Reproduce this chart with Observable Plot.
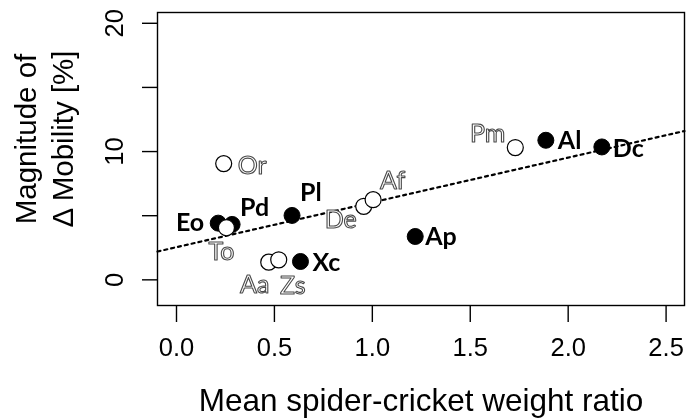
<!DOCTYPE html>
<html>
<head>
<meta charset="utf-8">
<script src="https://cdn.jsdelivr.net/npm/d3@7"></script>
<script src="https://cdn.jsdelivr.net/npm/@observablehq/plot@0.6"></script>
<style>
  html, body { margin: 0; padding: 0; background: #fff; }
  #chart svg { filter: grayscale(1); }
</style>
</head>
<body>
<div id="chart"></div>
<script>
// ---- data ----
const species     = ["Eo", "Pd", "Pl", "Xc", "Ap", "Al", "Dc", "To", "Or", "Aa", "Zs", "De", "Af", "Pm"];
const weightRatio = [0.213, 0.284, 0.590, 0.633, 1.219, 1.886, 2.172, 0.255, 0.241, 0.471, 0.522, 0.956, 1.004, 1.730];
const mobility    = [4.42, 4.32, 5.02, 1.43, 3.38, 10.88, 10.36, 4.06, 9.06, 1.38, 1.56, 5.73, 6.25, 10.31];
const filledGroup = [true, true, true, true, true, true, true, false, false, false, false, false, false, false];

const xTicks = [0, 0.5, 1.0, 1.5, 2.0, 2.5];
const yTicks = [0, 5, 10, 15, 20];
const yTickLabels = [0, 10, 20];
const xTitle = "Mean spider-cricket weight ratio";
const yTitleLines = ["Magnitude of", "\u0394 Mobility [%]"];

const rows = species.map((s, i) => ({ s, x: weightRatio[i], y: mobility[i], filled: filledGroup[i] }));

// least-squares fit (drawn across the whole panel, like abline)
const mx = d3.mean(weightRatio), my = d3.mean(mobility);
const slope = d3.sum(rows, d => (d.x - mx) * (d.y - my)) / d3.sum(rows, d => (d.x - mx) ** 2);
const intercept = my - slope * mx;

const xDomain = [-0.097, 2.594];
const yDomain = [-2.0, 20.84];
const fitLine = xDomain.map(x => ({ x, y: intercept + slope * x }));

// ---- label placement (layout) ----
const labelLayout = {
  Eo: ["end", -14, 0], Pd: ["start", 8, -16], Pl: ["start", 8, -22], Xc: ["start", 12, 2],
  Ap: ["start", 10, 1], Al: ["start", 12, 1], Dc: ["start", 11, 2],
  To: ["middle", -5, 24], Or: ["start", 14, 2], Aa: ["middle", -14, 23], Zs: ["middle", 14, 26],
  De: ["end", -7, 14], Af: ["start", 7, -19], Pm: ["end", -10, -14]
};
const labelFont = "Lato, 'Open Sans', sans-serif";
const labelMarks = rows.map(d => {
  const [anchor, dx, dy] = labelLayout[d.s];
  return d.filled
    ? Plot.text([d], { x: "x", y: "y", text: "s", textAnchor: anchor, dx, dy,
        fontSize: 25, fontWeight: "bold", fill: "black", fontFamily: labelFont })
    : Plot.text([d], { x: "x", y: "y", text: "s", textAnchor: anchor, dx, dy,
        fontSize: 25, fontWeight: "normal", fill: "white", stroke: "#4a4a4a", strokeWidth: 1.1,
        paintOrder: "normal", fontFamily: labelFont });
});

const chart = Plot.plot({
  width: 686,
  height: 418,
  marginLeft: 157,
  marginRight: 2,
  marginTop: 12,
  marginBottom: 113,
  style: { fontFamily: "'Liberation Sans', Arial, sans-serif", background: "white", color: "black" },
  x: { domain: xDomain },
  y: { domain: yDomain },
  marks: [
    Plot.frame({ stroke: "black", strokeWidth: 1.4 }),
    Plot.axisX({ ticks: xTicks, tickSize: 17, tickPadding: 15, tickFormat: d3.format(".1f"),
                 fontSize: 25.5, label: null, strokeWidth: 1.4 }),
    Plot.axisY({ ticks: yTicks, tickSize: 15, tickFormat: () => "", label: null, strokeWidth: 1.4 }),
    Plot.text(yTickLabels, { y: d => d, text: d => String(d), frameAnchor: "left", dx: -35,
                 rotate: -90, textAnchor: "middle", lineAnchor: "bottom", fontSize: 25.5 }),
    Plot.text([xTitle], { text: d => d, frameAnchor: "bottom", dy: 105, lineAnchor: "bottom", fontSize: 31.5 }),
    Plot.text([yTitleLines[0]], { text: d => d, frameAnchor: "left", dx: -122, dy: -20,
                 rotate: -90, textAnchor: "middle", lineAnchor: "bottom", fontSize: 29.5 }),
    Plot.text([yTitleLines[1]], { text: d => d, frameAnchor: "left", dx: -85, dy: -20,
                 rotate: -90, textAnchor: "middle", lineAnchor: "bottom", fontSize: 29.5 }),
    Plot.line(fitLine, { x: "x", y: "y", stroke: "black", strokeWidth: 2.2, strokeDasharray: "3,4" }),
    Plot.dot(rows.filter(d => d.filled), { x: "x", y: "y", r: 8, fill: "black", stroke: "black", strokeWidth: 1 }),
    Plot.dot(rows.filter(d => !d.filled), { x: "x", y: "y", r: 8, fill: "white", stroke: "black", strokeWidth: 1.2 }),
    ...labelMarks
  ]
});
document.getElementById("chart").appendChild(chart);
</script>
</body>
</html>
